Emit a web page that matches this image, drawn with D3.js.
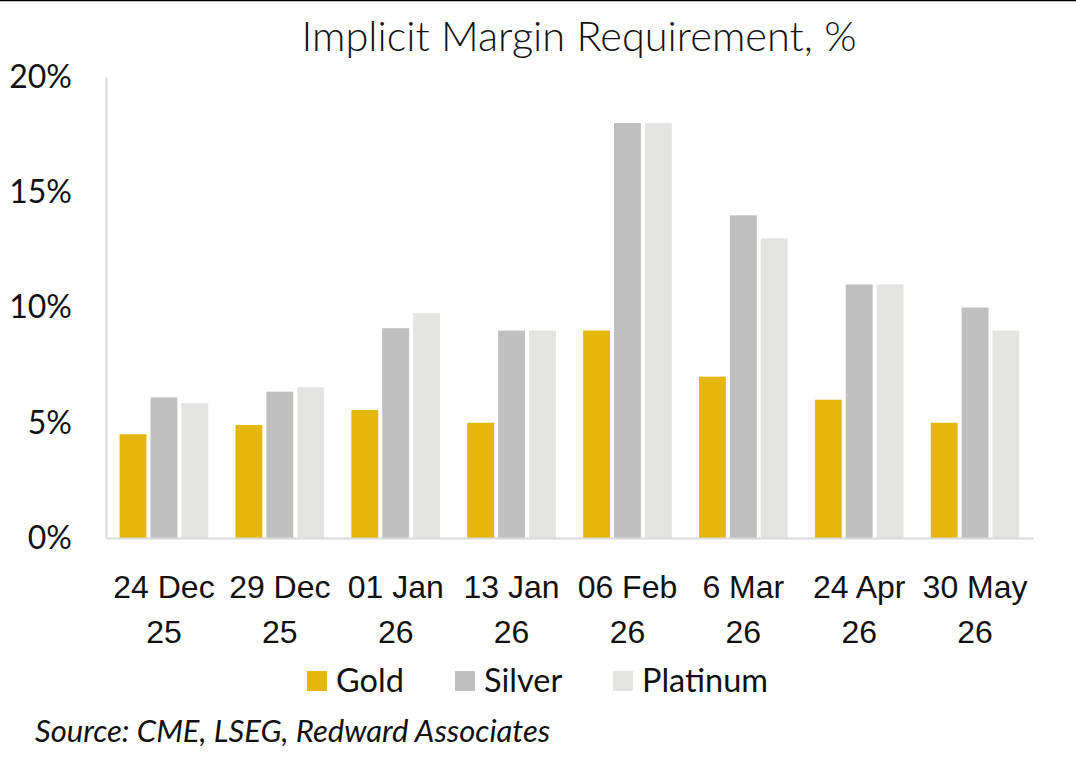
<!DOCTYPE html>
<html><head><meta charset="utf-8">
<script src="https://cdn.jsdelivr.net/npm/d3@7"></script>
<style>
html,body{margin:0;padding:0;background:#fff;}
svg{display:block;font-family:Lato,"Open Sans",sans-serif;}
</style></head>
<body>
<svg id="chart" width="1076" height="761"></svg>
<script>
const categories = [["24 Dec","25"],["29 Dec","25"],["01 Jan","26"],["13 Jan","26"],["06 Feb","26"],["6 Mar","26"],["24 Apr","26"],["30 May","26"]];
const seriesNames = ["Gold","Silver","Platinum"];
const gold     = [4.5, 4.9, 5.55, 5.0, 9.0, 7.0, 6.0, 5.0];
const silver   = [6.1, 6.35, 9.1, 9.0, 18.0, 14.0, 11.0, 10.0];
const platinum = [5.85, 6.55, 9.75, 9.0, 18.0, 13.0, 11.0, 9.0];
const yTicks = [0, 5, 10, 15, 20];
const colors = ["#e5b70c", "#bfbfbf", "#e3e3e1"];

const svg = d3.select("#chart");
const margin = {left:106, right:43, top:77, bottom:223};
const W = 1076, H = 761;
const x0 = d3.scaleBand().domain(d3.range(categories.length)).range([margin.left, W - margin.right]).paddingInner(0.235).paddingOuter(0.1175);
const x1 = d3.scaleBand().domain(seriesNames).range([0, x0.bandwidth()]).paddingInner(0.13);
const y = d3.scaleLinear().domain([0, 20]).range([H - margin.bottom, margin.top]);

// top border line
svg.append("line").attr("x1",0).attr("x2",W).attr("y1",0.5).attr("y2",0.5).attr("stroke","#000").attr("stroke-width",1.5);

// title
svg.append("text").attr("x", 579).attr("y", 51).attr("text-anchor","middle")
  .attr("font-size", 41.5).attr("font-weight", 300).attr("fill","#111").text("Implicit Margin Requirement, %");

const data = [gold, silver, platinum];
const groups = svg.append("g").selectAll("g").data(categories).join("g")
  .attr("transform", (d,i)=>`translate(${x0(i)},0)`);
groups.selectAll("rect").data((d,i)=>seriesNames.map((s,k)=>({s, v:data[k][i], c:colors[k]})))
  .join("rect")
  .attr("x", d=>x1(d.s)).attr("width", x1.bandwidth())
  .attr("y", d=>y(d.v)).attr("height", d=>y(0)-y(d.v)).attr("fill", d=>d.c);

// y axis
const yAxis = svg.append("g").attr("transform",`translate(${margin.left},0)`)
  .call(d3.axisLeft(y).tickValues(yTicks).tickFormat(d=>d+"%").tickSize(0).tickPadding(34));
yAxis.select(".domain").attr("stroke","#d9d9d9").attr("stroke-width",2);
yAxis.selectAll("text").attr("font-size",32).attr("fill","#111").attr("font-family","Lato,'Open Sans',sans-serif");

// x axis baseline
const xAxis = svg.append("g").attr("transform",`translate(0,${y(0)})`)
  .call(d3.axisBottom(x0).tickSize(0).tickFormat(""));
xAxis.select(".domain").attr("stroke","#d9d9d9").attr("stroke-width",2);
xAxis.selectAll(".tick").each(function(d){
  const t = d3.select(this).append("text").attr("text-anchor","middle").attr("fill","#111").attr("font-size",32);
  t.append("tspan").attr("x",0).attr("y",60).text(categories[d][0]);
  t.append("tspan").attr("x",0).attr("y",105).text(categories[d][1]);
});

// legend
const legendX = [307, 455, 613];
const lg = svg.append("g").selectAll("g").data(seriesNames).join("g")
  .attr("transform",(d,i)=>`translate(${legendX[i]},671)`);
lg.append("rect").attr("width",20).attr("height",20).attr("fill",(d,i)=>colors[i]);
lg.append("text").attr("x",29).attr("y",21).attr("font-size",32.5).attr("fill","#111").text(d=>d);

// source
svg.append("text").attr("x",35).attr("y",742).attr("font-size",31).attr("font-style","italic").attr("fill","#111")
  .text("Source: CME, LSEG, Redward Associates");
</script>
</body></html>
